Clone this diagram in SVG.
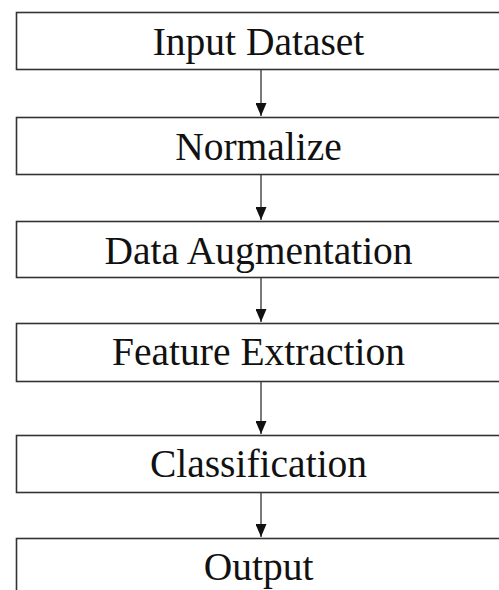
<svg xmlns="http://www.w3.org/2000/svg" width="499" height="590" viewBox="0 0 499 590">
<style>
.box{fill:#fff;stroke:#333;stroke-width:1.6}
.lbl{font-family:"Liberation Serif","Times New Roman",serif;font-size:39.5px;fill:#111;text-anchor:middle}
.conn{stroke:#222;stroke-width:1.2;fill:none}
</style>
<defs>
<marker id="ah" markerWidth="13" markerHeight="11" refX="13" refY="5.5" orient="auto" markerUnits="userSpaceOnUse" viewBox="0 0 13 11">
<path d="M0,0 L13,5.5 L0,11 Z" fill="#111"/>
</marker>
</defs>
<rect width="499" height="590" fill="#fff"/>
<g id="n1"><rect class="box" x="16.5" y="12.5" width="500" height="57"/><text class="lbl" x="258.5" y="55">Input Dataset</text></g>
<g id="n2"><rect class="box" x="16.5" y="117.5" width="500" height="57"/><text class="lbl" x="258.5" y="160">Normalize</text></g>
<g id="n3"><rect class="box" x="16.5" y="221.5" width="500" height="56"/><text class="lbl" x="258.5" y="264">Data Augmentation</text></g>
<g id="n4"><rect class="box" x="16.5" y="323.5" width="500" height="58"/><text class="lbl" x="258.5" y="365">Feature Extraction</text></g>
<g id="n5"><rect class="box" x="16.5" y="435.5" width="500" height="57"/><text class="lbl" x="258.5" y="477">Classification</text></g>
<g id="n6"><rect class="box" x="16.5" y="538.5" width="500" height="80"/><text class="lbl" x="258.5" y="580">Output</text></g>
<g id="connectors">
<line class="conn" x1="261" y1="70" x2="261" y2="116" marker-end="url(#ah)"/>
<line class="conn" x1="261" y1="175" x2="261" y2="220" marker-end="url(#ah)"/>
<line class="conn" x1="261" y1="278" x2="261" y2="322" marker-end="url(#ah)"/>
<line class="conn" x1="261" y1="382" x2="261" y2="434" marker-end="url(#ah)"/>
<line class="conn" x1="261" y1="493" x2="261" y2="537" marker-end="url(#ah)"/>
</g>
</svg>
